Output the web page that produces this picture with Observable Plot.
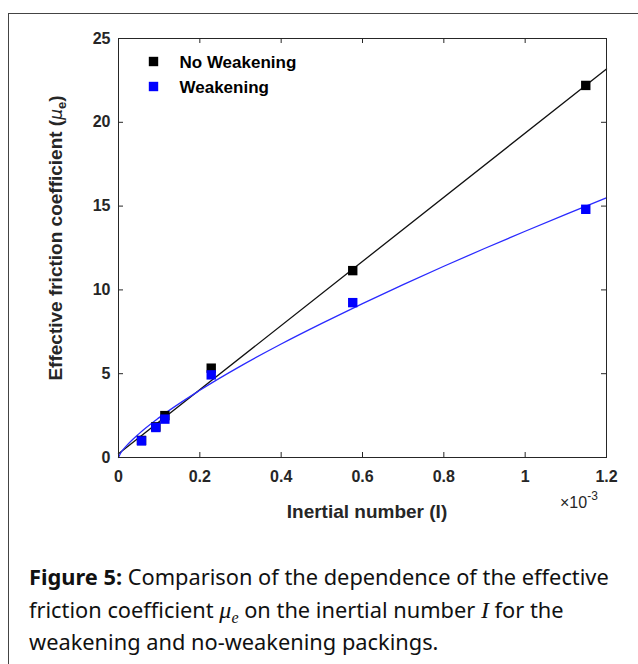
<!DOCTYPE html>
<html><head><meta charset="utf-8">
<script src="https://cdn.jsdelivr.net/npm/d3@7"></script>
<script src="https://cdn.jsdelivr.net/npm/@observablehq/plot@0.6"></script>
<style>
html,body{margin:0;padding:0;background:#fff;width:638px;height:664px;overflow:hidden;}
#frame{position:absolute;left:8px;top:13px;width:700px;height:700px;border-top:1px solid #444;border-left:1px solid #444;}
#chart{position:absolute;left:0;top:0;}
#caption{position:absolute;left:29px;top:561px;font-family:"Noto Sans",sans-serif;font-size:21.8px;line-height:32.5px;color:#111;white-space:nowrap;}
#caption i.m{font-family:"Liberation Serif",serif;font-style:italic;font-size:24px;}
#caption sub{font-size:16px;vertical-align:-5px;line-height:0;}
</style></head><body>
<div id="frame"></div>
<div id="chart"></div>
<div id="caption"><b>Figure 5:</b> Comparison of the dependence of the effective<br>friction coefficient <i class="m">μ<sub>e</sub></i> on the inertial number <i class="m">I</i> for the<br>weakening and no-weakening packings.</div>
<script>
// Data (inertial number in units of 1e-3)
const inertial = [0.0566, 0.0918, 0.114, 0.228, 0.576, 1.149];
const muNoWeakening = [1.02, 1.83, 2.5, 5.33, 11.15, 22.2];
const muWeakening = [0.99, 1.79, 2.29, 4.93, 9.24, 14.81];
// Fitted curves
const fitLineI = [0, 1.2];
const fitLineNoWeakening = [0.22, 23.18];
const fitCurveI = [0, 0.005, 0.02, 0.05, 0.1, 0.2, 0.3, 0.4, 0.5, 0.6, 0.7, 0.8, 0.9, 1.0, 1.1, 1.2];
const fitCurveWeakening = [0, 0.25, 0.71, 1.41, 2.38, 4.01, 5.45, 6.77, 8.0, 9.18, 10.32, 11.41, 12.47, 13.5, 14.51, 15.49];
const seriesNames = ["No Weakening", "Weakening"];
const seriesColors = ["#000000", "#0000ff"];
const xTicks = [0, 0.2, 0.4, 0.6, 0.8, 1, 1.2];
const yTicks = [0, 5, 10, 15, 20, 25];

const W = 638, H = 530, mL = 118, mR = 32, mT = 38, mB = 73;
const innerW = W - mL - mR, innerH = H - mT - mB;
const axisColor = "#262626";

const ptsNo = inertial.map((I, i) => ({I, mu: muNoWeakening[i]}));
const ptsW = inertial.map((I, i) => ({I, mu: muWeakening[i]}));
const lineNo = fitLineI.map((I, i) => ({I, mu: fitLineNoWeakening[i]}));
const curveW = fitCurveI.map((I, i) => ({I, mu: fitCurveWeakening[i]}));
const legend = seriesNames.map((name, i) => ({name, color: seriesColors[i]}));
const sq = 5.3;

const chart = Plot.plot({
  width: W, height: H,
  marginLeft: mL, marginRight: mR, marginTop: mT, marginBottom: mB,
  x: {domain: [0, 1.2]},
  y: {domain: [0, 25]},
  style: {fontFamily: "'Liberation Sans', Arial, sans-serif", fontSize: "16px", fontWeight: "bold", color: axisColor, background: "transparent", overflow: "visible"},
  marks: [
    Plot.line(lineNo, {x: "I", y: "mu", stroke: "#111", strokeWidth: 1.3}),
    Plot.line(curveW, {x: "I", y: "mu", stroke: "#2a2aff", strokeWidth: 1.3, curve: "monotone-x"}),
    Plot.dot(ptsNo, {x: "I", y: "mu", symbol: "square", r: sq, fill: seriesColors[0], stroke: "none"}),
    Plot.dot(ptsW, {x: "I", y: "mu", symbol: "square", r: sq, fill: seriesColors[1], stroke: "none"}),
    Plot.frame({stroke: axisColor, strokeWidth: 1}),
    Plot.ruleX(xTicks, {x: d => d, insetTop: innerH - 5, stroke: axisColor}),
    Plot.ruleX(xTicks, {x: d => d, insetBottom: innerH - 5, stroke: axisColor}),
    Plot.ruleY(yTicks, {y: d => d, insetRight: innerW - 5, stroke: axisColor}),
    Plot.ruleY(yTicks, {y: d => d, insetLeft: innerW - 5, stroke: axisColor}),
    Plot.axisX({anchor: "bottom", ticks: xTicks, tickSize: 0, tickPadding: 13.5, tickFormat: d => String(d), label: null, fill: axisColor}),
    Plot.axisY({anchor: "left", ticks: yTicks, tickSize: 0, tickPadding: 8, tickFormat: d => String(d), label: null, fill: axisColor}),
    ...legend.map((d, i) => Plot.dot([d], {frameAnchor: "top-left", dx: 35, dy: 23 + 25 * i, symbol: "square", r: sq, fill: "color"})),
    ...legend.map((d, i) => Plot.text([d], {frameAnchor: "top-left", dx: 61, dy: 24 + 25 * i, text: "name", textAnchor: "start", lineAnchor: "middle", fontSize: 17, fontWeight: "bold", fill: "#000"}))
  ]
});
document.getElementById("chart").appendChild(chart);

const svg = d3.select(chart);
const font = "'Liberation Sans', Arial, sans-serif";
// y label
const yl = svg.append("text")
  .attr("transform", "translate(62,238) rotate(-90)")
  .attr("text-anchor", "middle")
  .attr("font-family", font).attr("font-size", 19).attr("font-weight", "bold").attr("fill", axisColor);
yl.append("tspan").text("Effective friction coefficient (");
yl.append("tspan").attr("font-weight", "normal").attr("font-style", "italic").attr("font-family", "'DejaVu Sans', sans-serif").attr("font-size", 17).text("μ");
yl.append("tspan").attr("font-size", 13).attr("dy", 4).text("e");
yl.append("tspan").attr("dy", -4).text(")");
// x label
svg.append("text")
  .attr("x", 367).attr("y", 517.5).attr("text-anchor", "middle")
  .attr("font-family", font).attr("font-size", 19).attr("font-weight", "bold").attr("fill", axisColor)
  .text("Inertial number (I)");
// exponent
const ex = svg.append("text")
  .attr("x", 560).attr("y", 508).attr("text-anchor", "start")
  .attr("font-family", font).attr("font-size", 16).attr("font-weight", "normal").attr("fill", axisColor);
ex.append("tspan").text("×10");
ex.append("tspan").attr("font-size", 12).attr("dy", -8).text("-3");
</script>
</body></html>
